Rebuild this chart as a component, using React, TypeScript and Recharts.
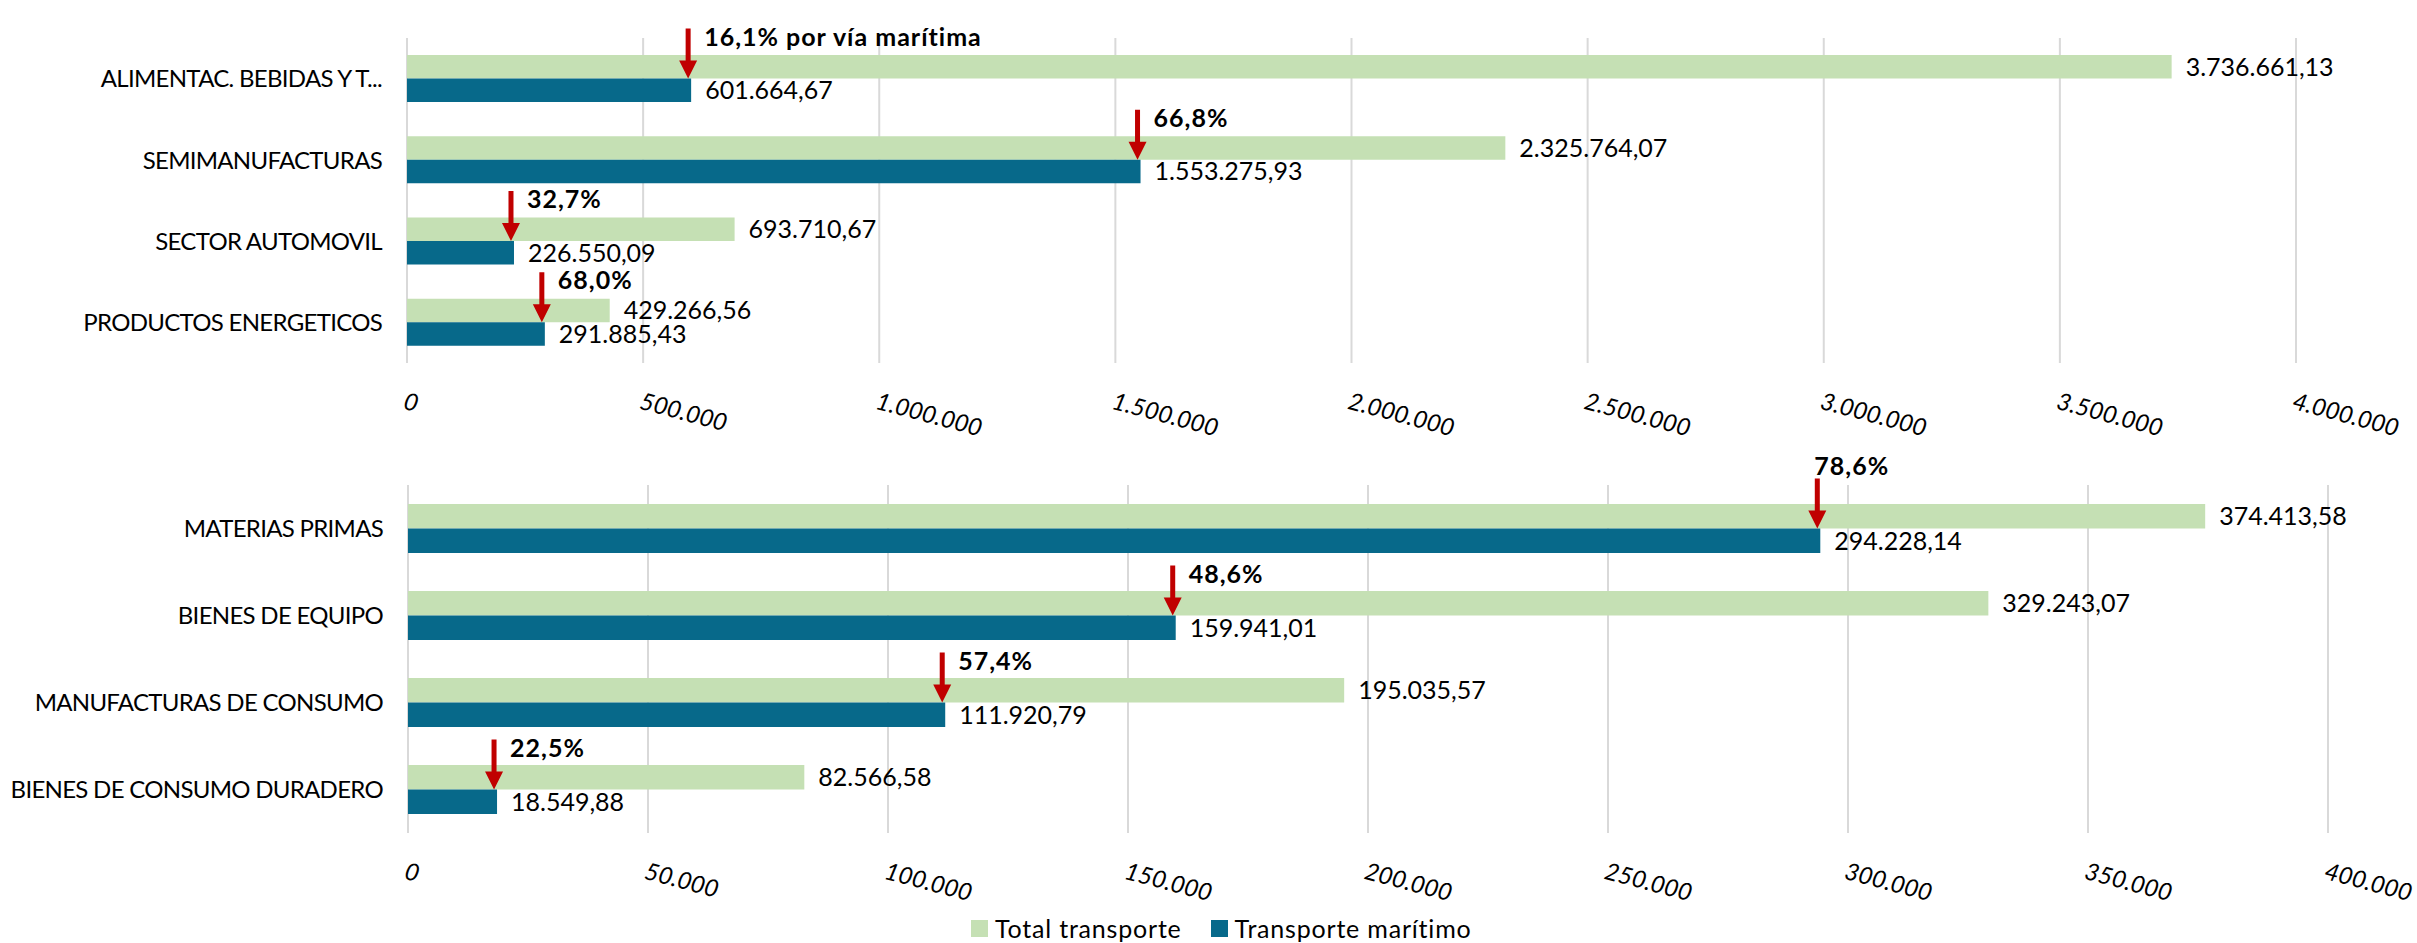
import React from 'react';
import { BarChart, Bar, XAxis, YAxis, CartesianGrid, LabelList, Legend } from 'recharts';

const topCategories = ['ALIMENTAC. BEBIDAS Y T...', 'SEMIMANUFACTURAS', 'SECTOR AUTOMOVIL', 'PRODUCTOS ENERGETICOS'];
const topTotal = [3736661.13, 2325764.07, 693710.67, 429266.56];
const topMaritime = [601664.67, 1553275.93, 226550.09, 291885.43];
const topShare = ['16,1% por vía marítima', '66,8%', '32,7%', '68,0%'];
const topTicks = [0, 500000, 1000000, 1500000, 2000000, 2500000, 3000000, 3500000, 4000000];

const bottomCategories = ['MATERIAS PRIMAS', 'BIENES DE EQUIPO', 'MANUFACTURAS DE CONSUMO', 'BIENES DE CONSUMO DURADERO'];
const bottomTotal = [374413.58, 329243.07, 195035.57, 82566.58];
const bottomMaritime = [294228.14, 159941.01, 111920.79, 18549.88];
const bottomShare = ['78,6%', '48,6%', '57,4%', '22,5%'];
const bottomTicks = [0, 50000, 100000, 150000, 200000, 250000, 300000, 350000, 400000];

const seriesNames = ['Total transporte', 'Transporte marítimo'];

const FONT = 'Lato, "Open Sans", sans-serif';
const GREEN = '#C5E0B4';
const BLUE = '#07698A';
const RED = '#C00000';

// spanish number format: 1.234.567,89
function fmt(v: number, decimals: number) {
  const [int, dec] = Math.abs(v).toFixed(decimals).split('.');
  const withDots = int.replace(/\B(?=(\d{3})+(?!\d))/g, '.');
  return dec ? `${withDots},${dec}` : withDots;
}

function buildRows(cats: string[], total: number[], mar: number[], share: string[]) {
  return cats.map((name, i) => ({ name, total: total[i], maritime: mar[i], share: share[i] }));
}

const topData = buildRows(topCategories, topTotal, topMaritime, topShare);
const bottomData = buildRows(bottomCategories, bottomTotal, bottomMaritime, bottomShare);

function RotTick(props: any) {
  const { x, y, payload } = props;
  return (
    <g transform={`translate(${x},${y + 20}) rotate(15)`}>
      <text x={0} y={0} dy={18} textAnchor="start" fill="#000" fontSize={24} fontStyle="italic" fontFamily={FONT}>
        {fmt(payload.value, 0)}
      </text>
    </g>
  );
}

function CatTick(props: any) {
  const { x, y, payload } = props;
  return (
    <text
      x={x}
      y={y}
      dy="0.36em"
      textAnchor="end"
      fill="#000"
      fontSize={24}
      fontFamily={FONT}
      style={{ letterSpacing: '-0.7px' }}
    >
      {payload.value}
    </text>
  );
}

function ShareMarker(props: any) {
  const vb = props.viewBox ?? props;
  const { x, y, width } = vb;
  const { value, index, textAbove } = props;
  const ax = x + width - 3;
  const tip = y;
  const top = tip - 50;
  const above = textAbove && index === 0;
  return (
    <g>
      <polygon
        points={`${ax - 2.5},${top} ${ax + 2.5},${top} ${ax + 2.5},${tip - 18} ${ax + 9},${tip - 18} ${ax},${tip} ${ax - 9},${tip - 18} ${ax - 2.5},${tip - 18}`}
        fill={RED}
      />
      <text
        x={above ? ax - 3 : ax + 16}
        y={above ? top - 4 : top + 17}
        fontSize={25}
        fontWeight="bold"
        fontFamily={FONT}
        fill="#000"
        style={{ letterSpacing: '1px' }}
      >
        {value}
      </text>
    </g>
  );
}

function LegendContent(props: any) {
  const { payload } = props;
  return (
    <div style={{ display: 'flex', alignItems: 'center', fontFamily: FONT, fontSize: 25, color: '#000', letterSpacing: '0.8px', whiteSpace: 'nowrap' }}>
      {(payload || []).map((p: any, i: number) => (
        <div key={i} style={{ display: 'flex', alignItems: 'center', marginRight: 29 }}>
          <div style={{ width: 17, height: 17, background: p.color, marginRight: 7 }} />
          <span>{p.value}</span>
        </div>
      ))}
    </div>
  );
}

interface PanelProps {
  data: any[];
  ticks: number[];
  height: number;
  margin: { top: number; right: number; left: number; bottom: number };
  yWidth: number;
  barSize: number;
  textAbove?: boolean;
  legend?: boolean;
}

function Panel({ data, ticks, height, margin, yWidth, barSize, textAbove, legend }: PanelProps) {
  return (
    <BarChart
      width={2417}
      height={height}
      data={data}
      layout="vertical"
      margin={margin}
      barGap={0}
    >
      <CartesianGrid horizontal={false} stroke="#D9D9D9" strokeWidth={2} />
      <XAxis
        type="number"
        domain={[ticks[0], ticks[ticks.length - 1]]}
        ticks={ticks}
        interval={0}
        axisLine={false}
        tickLine={false}
        height={60}
        tick={(p: any) => <RotTick {...p} />}
      />
      <YAxis
        type="category"
        dataKey="name"
        width={yWidth}
        axisLine={false}
        tickLine={false}
        tickMargin={19}
        tick={(p: any) => <CatTick {...p} />}
      />
      {legend && (
        <Legend
          layout="horizontal"
          verticalAlign="middle"
          align="center"
          content={(p: any) => <LegendContent {...p} />}
          wrapperStyle={{ position: 'absolute', left: 971, top: 473, width: 700, height: 30 }}
        />
      )}
      <Bar dataKey="total" name={seriesNames[0]} fill={GREEN} barSize={barSize} isAnimationActive={false}>
        <LabelList
          dataKey="total"
          position="right"
          offset={14}
          formatter={(v: any) => fmt(Number(v), 2)}
          fill="#000"
          fontSize={25}
          fontFamily={FONT}
        />
      </Bar>
      <Bar dataKey="maritime" name={seriesNames[1]} fill={BLUE} barSize={barSize} isAnimationActive={false}>
        <LabelList
          dataKey="maritime"
          position="right"
          offset={14}
          formatter={(v: any) => fmt(Number(v), 2)}
          fill="#000"
          fontSize={25}
          fontFamily={FONT}
        />
        <LabelList dataKey="share" content={(p: any) => <ShareMarker {...p} textAbove={textAbove} />} />
      </Bar>
    </BarChart>
  );
}

export default function App() {
  return (
    <div style={{ position: 'absolute', left: 0, top: 0, width: 2417, height: 943, background: '#fff', overflow: 'hidden' }}>
      <div style={{ position: 'absolute', left: 0, top: 0 }}>
        <Panel
          data={topData}
          ticks={topTicks}
          height={440}
          margin={{ top: 38, right: 121, left: 0, bottom: 17 }}
          yWidth={407}
          barSize={23.5}
        />
      </div>
      <div style={{ position: 'absolute', left: 0, top: 440 }}>
        <Panel
          data={bottomData}
          ticks={bottomTicks}
          height={503}
          margin={{ top: 45, right: 89, left: 0, bottom: 50 }}
          yWidth={408}
          barSize={24.5}
          textAbove
          legend
        />
      </div>
    </div>
  );
}
